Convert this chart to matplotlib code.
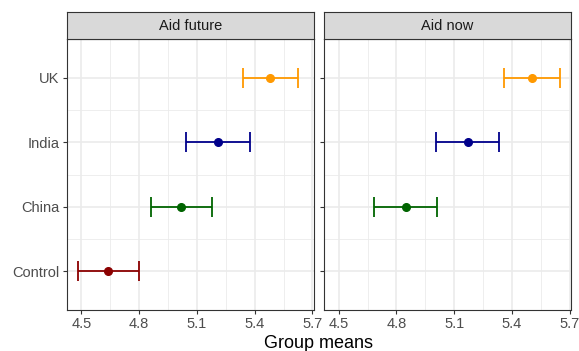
import matplotlib
matplotlib.use("Agg")
import matplotlib.pyplot as plt

plt.rcParams['font.family'] = ['Liberation Sans', 'DejaVu Sans']

groups = ["Control", "China", "India", "UK"]
colors = {"Control": "#8B0000", "China": "#006400", "India": "#00008B", "UK": "#FF9900"}

panels = ["Aid future", "Aid now"]
# mean, lower, upper per group
future_mean = {"Control": 4.640, "China": 5.020, "India": 5.210, "UK": 5.482}
future_low = {"Control": 4.482, "China": 4.859, "India": 5.042, "UK": 5.341}
future_high = {"Control": 4.797, "China": 5.180, "India": 5.376, "UK": 5.626}

now_mean = {"China": 4.848, "India": 5.170, "UK": 5.506}
now_low = {"China": 4.684, "India": 5.005, "UK": 5.361}
now_high = {"China": 5.011, "India": 5.335, "UK": 5.650}

xticks = [4.5, 4.8, 5.1, 5.4, 5.7]

W, H = 579, 351
fig = plt.figure(figsize=(W / 100, H / 100), dpi=100)

def fx(px):
    return px / W

def fy(py):
    return 1 - py / H

panel_top, panel_bot = 39.3, 310.0
strip_top = 11.7
lefts = [(66.7, 314.0), (324.0, 571.3)]

all_vals = list(future_low.values()) + list(future_high.values()) + \
    list(now_low.values()) + list(now_high.values())
lo, hi = min(all_vals), max(all_vals)
pad = (hi - lo) * 0.05
xlim = (lo - pad, hi + pad)

data = [(future_mean, future_low, future_high), (now_mean, now_low, now_high)]

for i, (name, (l, r)) in enumerate(zip(panels, lefts)):
    ax = fig.add_axes([fx(l), fy(panel_bot), fx(r - l), (panel_bot - panel_top) / H])
    ax.set_xlim(*xlim)
    ax.set_ylim(0.4, 4.6)
    ax.set_facecolor("white")
    ax.set_xticks(xticks)
    ax.set_xticks([4.65, 4.95, 5.25, 5.55], minor=True)
    ax.set_yticks(range(1, 5))
    ax.set_yticks([1.5, 2.5, 3.5], minor=True)
    ax.grid(True, which="major", color="#EBEBEB", linewidth=1.2, zorder=0)
    ax.grid(True, which="minor", color="#EBEBEB", linewidth=0.6, zorder=0)
    ax.set_axisbelow(True)
    for s in ax.spines.values():
        s.set_color("#333333")
        s.set_linewidth(0.8)
    ax.tick_params(which="major", length=3.2, width=0.8, color="#333333",
                   labelsize=10.5, labelcolor="#4D4D4D", pad=2)
    ax.tick_params(which="minor", length=0)
    ax.set_xticklabels([f"{t:.1f}" for t in xticks])
    if i == 0:
        ax.set_yticklabels(groups)
    else:
        ax.set_yticklabels([])

    m, lo_d, hi_d = data[i]
    for j, g in enumerate(groups):
        if g not in m:
            continue
        y = j + 1
        c = colors[g]
        ax.errorbar([m[g]], [y], xerr=[[m[g] - lo_d[g]], [hi_d[g] - m[g]]],
                    fmt="o", color=c, ecolor=c, elinewidth=1.3, capsize=7.5,
                    capthick=1.3, markersize=5.5, zorder=3)

    # facet strip
    sax = fig.add_axes([fx(l), fy(panel_top), fx(r - l), (panel_top - strip_top) / H])
    sax.set_xlim(0, 1)
    sax.set_ylim(0, 1)
    sax.set_facecolor("#D9D9D9")
    for s in sax.spines.values():
        s.set_color("#333333")
        s.set_linewidth(0.8)
    sax.set_xticks([])
    sax.set_yticks([])
    sax.text(0.5, 0.5, name, ha="center", va="center", fontsize=10.5, color="#1A1A1A")

fig.text(fx((66.7 + 571.3) / 2), fy(343), "Group means", ha="center", va="center",
         fontsize=13, color="black")

fig.savefig("out.png", dpi=100)
